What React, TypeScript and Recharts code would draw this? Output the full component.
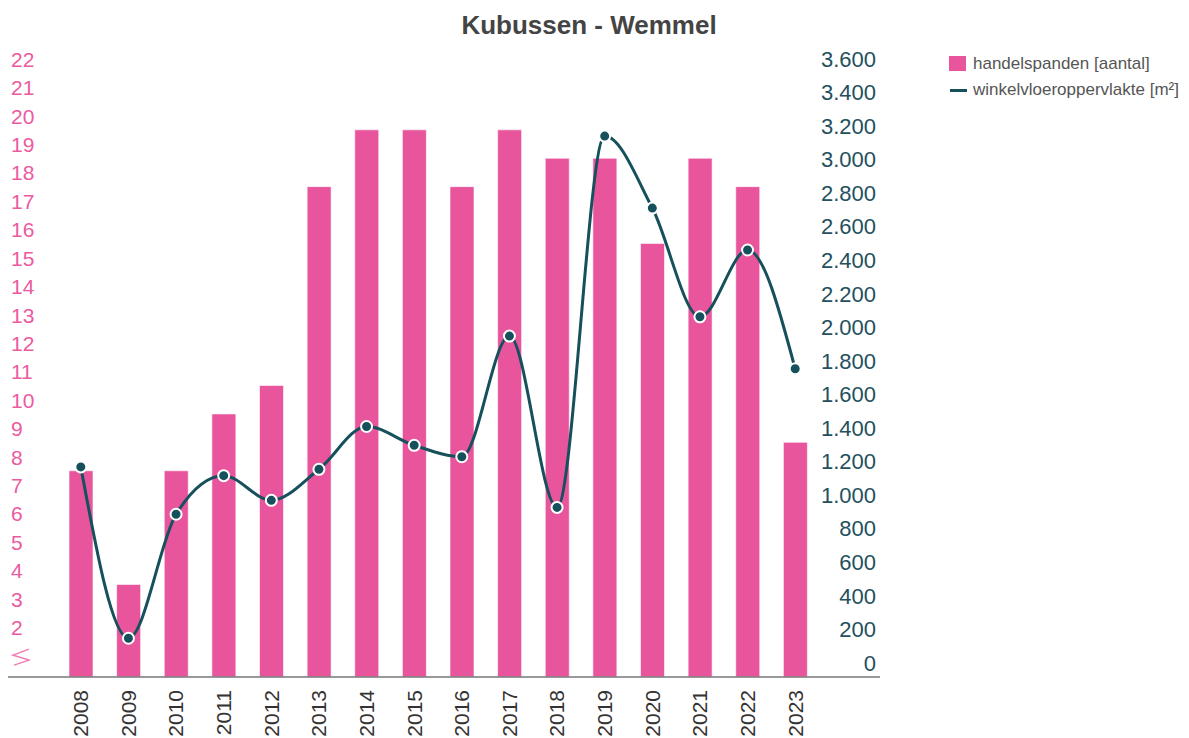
import React from 'react';
import { ComposedChart, Bar, Line, XAxis, YAxis } from 'recharts';

const years = ['2008', '2009', '2010', '2011', '2012', '2013', '2014', '2015', '2016', '2017', '2018', '2019', '2020', '2021', '2022', '2023'];
const handelspanden = [8, 4, 8, 10, 11, 18, 20, 20, 18, 20, 19, 19, 16, 19, 18, 9];
const vloeroppervlakte = [1252, 231, 970, 1200, 1053, 1238, 1493, 1381, 1313, 2032, 1011, 3224, 2795, 2147, 2545, 1837];

const leftTicks = [1, 2, 3, 4, 5, 6, 7, 8, 9, 10, 11, 12, 13, 14, 15, 16, 17, 18, 19, 20, 21, 22];
const rightTicks = [0, 200, 400, 600, 800, 1000, 1200, 1400, 1600, 1800, 2000, 2200, 2400, 2600, 2800, 3000, 3200, 3400, 3600];

const PINK = '#e8559c';
const TEAL = '#16505c';
const FONT = '"Liberation Sans", Arial, sans-serif';

const data = years.map((year, i) => ({
  year,
  handelspanden: handelspanden[i],
  vloer: vloeroppervlakte[i],
}));

const formatThousands = (v: number) => String(v).replace(/\B(?=(\d{3})+(?!\d))/g, '.');

const LeftTick = ({ y, payload }: any) => {
  const cy = y - 13.5;
  if (payload.value === 1) {
    // axis break marker
    return (
      <path
        d={`M 29 ${cy - 7} L 13 ${cy - 1} L 29 ${cy + 4} L 14 ${cy + 9}`}
        fill="none"
        stroke="#f07ab3"
        strokeWidth={1.5}
      />
    );
  }
  return (
    <text x={11} y={cy} dy="0.35em" textAnchor="start" fill="#ec5aa0" fontSize={21} fontFamily={FONT}>
      {payload.value}
    </text>
  );
};

const RightTick = ({ y, payload }: any) => (
  <text x={876} y={y - 14} dy="0.35em" textAnchor="end" fill="#24505e" fontSize={22} fontFamily={FONT}>
    {formatThousands(payload.value)}
  </text>
);

const YearTick = ({ x, payload }: any) => (
  <text
    x={x}
    y={690}
    dy="0.35em"
    textAnchor="end"
    transform={`rotate(-90, ${x}, 690)`}
    fill="#333"
    fontSize={21}
    fontFamily={FONT}
  >
    {payload.value}
  </text>
);

export default function App() {
  return (
    <div style={{ position: 'absolute', left: 0, top: 0, width: 1189, height: 738, fontFamily: FONT, background: '#fff' }}>
      <div
        style={{
          position: 'absolute',
          left: 0,
          top: 10,
          width: 1178,
          textAlign: 'center',
          fontSize: 26,
          lineHeight: '30px',
          fontWeight: 'bold',
          color: '#444',
        }}
      >
        Kubussen - Wemmel
      </div>

      <ComposedChart
        width={1189}
        height={738}
        data={data}
        margin={{ top: 73, right: 308, bottom: 0, left: 7 }}
      >
        <XAxis
          dataKey="year"
          height={61}
          interval={0}
          tickLine={false}
          axisLine={{ stroke: '#777', strokeWidth: 1.5 }}
          padding={{ left: 49, right: 61 }}
          tick={<YearTick />}
        />
        <YAxis
          yAxisId="left"
          orientation="left"
          width={1}
          domain={[0.74, 22]}
          ticks={leftTicks}
          interval={0}
          axisLine={false}
          tickLine={false}
          tick={<LeftTick />}
        />
        <YAxis
          yAxisId="right"
          orientation="right"
          width={1}
          domain={[0, 3600]}
          ticks={rightTicks}
          interval={0}
          axisLine={false}
          tickLine={false}
          tick={<RightTick />}
        />
        <Bar
          yAxisId="left"
          dataKey="handelspanden"
          fill={PINK}
          stroke="#fff"
          strokeOpacity={0.6}
          strokeWidth={1}
          barSize={24}
          isAnimationActive={false}
        />
        <Line
          yAxisId="right"
          type="monotone"
          dataKey="vloer"
          stroke={TEAL}
          strokeWidth={3}
          dot={{ r: 5.5, fill: TEAL, stroke: '#fff', strokeWidth: 2 }}
          isAnimationActive={false}
        />
      </ComposedChart>

      <div style={{ position: 'absolute', left: 949, top: 56, width: 17, height: 15, background: PINK }} />
      <div style={{ position: 'absolute', left: 973, top: 54, fontSize: 17, lineHeight: '20px', color: '#555' }}>
        handelspanden [aantal]
      </div>
      <div style={{ position: 'absolute', left: 950, top: 89, width: 17, height: 3, background: TEAL }} />
      <div style={{ position: 'absolute', left: 973, top: 80, fontSize: 17, lineHeight: '20px', color: '#555' }}>
        winkelvloeroppervlakte [m²]
      </div>
    </div>
  );
}
